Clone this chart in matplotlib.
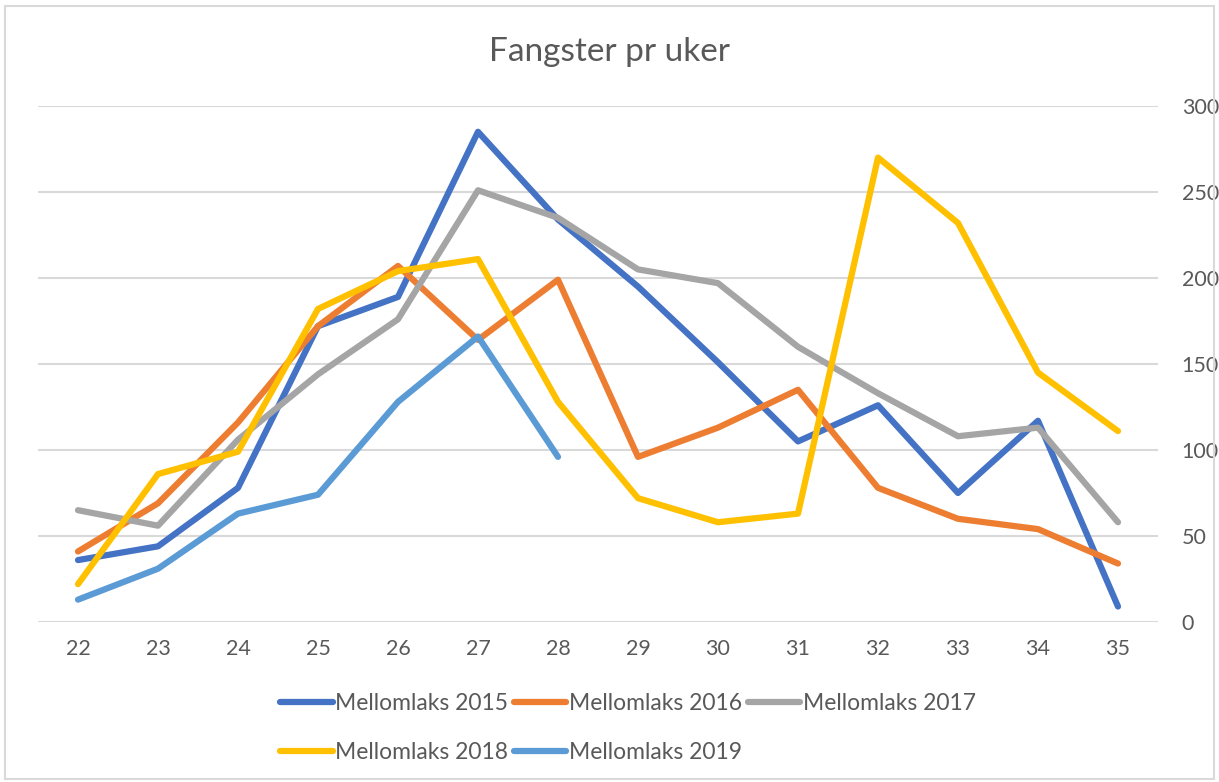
import matplotlib.pyplot as plt
from matplotlib.patches import Rectangle

weeks = list(range(22, 36))

laks_2015 = [36, 44, 78, 172, 189, 285, 234, 195, 151, 105, 126, 75, 117, 9]
laks_2016 = [41, 69, 116, 172, 207, 164, 199, 96, 113, 135, 78, 60, 54, 34]
laks_2017 = [65, 56, 106, 144, 176, 251, 235, 205, 197, 160, 133, 108, 113, 58]
laks_2018 = [22, 86, 99, 182, 204, 211, 128, 72, 58, 63, 270, 232, 145, 111]
laks_2019 = [13, 31, 63, 74, 128, 166, 96]

series = [
    ('Mellomlaks 2015', laks_2015, '#4472C4'),
    ('Mellomlaks 2016', laks_2016, '#ED7D31'),
    ('Mellomlaks 2017', laks_2017, '#A5A5A5'),
    ('Mellomlaks 2018', laks_2018, '#FFC000'),
    ('Mellomlaks 2019', laks_2019, '#5B9BD5'),
]

plt.rcParams['font.family'] = ['Lato', 'DejaVu Sans']

fig = plt.figure(figsize=(12.19, 7.82), dpi=100)
ax = fig.add_axes([38 / 1219, 1 - 622 / 782, 1120 / 1219, 516 / 782])

lines = {}
for label, vals, color in series:
    ln, = ax.plot(weeks[:len(vals)], vals, color=color, linewidth=4.5,
                  solid_capstyle='round', solid_joinstyle='round', label=label)
    lines[label] = ln

ax.set_xlim(21.5, 35.5)
ax.set_ylim(0, 300)
ax.set_xticks(weeks)
ax.set_yticks(range(0, 301, 50))
ax.yaxis.tick_right()
ax.grid(axis='y', color='#D9D9D9', linewidth=1.5)
ax.set_axisbelow(True)
for s in ax.spines.values():
    s.set_visible(False)
ax.tick_params(axis='both', length=0, labelsize=15.5, labelcolor='#595959')
ax.tick_params(axis='x', pad=12)
ax.tick_params(axis='y', pad=17)

fig.text(0.5, 1 - 52 / 782, 'Fangster pr uker', ha='center', va='center',
         fontsize=24, color='#595959')

order = ['Mellomlaks 2015', 'Mellomlaks 2018', 'Mellomlaks 2016',
         'Mellomlaks 2019', 'Mellomlaks 2017']
leg = fig.legend([lines[k] for k in order], order, ncol=3, loc='center',
                 bbox_to_anchor=(0.515, 1 - 728 / 782), frameon=False,
                 fontsize=16.5, labelcolor='#595959', handlelength=2.3,
                 handletextpad=0.1, columnspacing=0.25, labelspacing=1.2)

fig.patches.append(Rectangle((0.004, 0.004), 0.992, 0.988, transform=fig.transFigure,
                             fill=False, edgecolor='#D9D9D9', linewidth=1.5))

fig.savefig('out.png', dpi=100)
